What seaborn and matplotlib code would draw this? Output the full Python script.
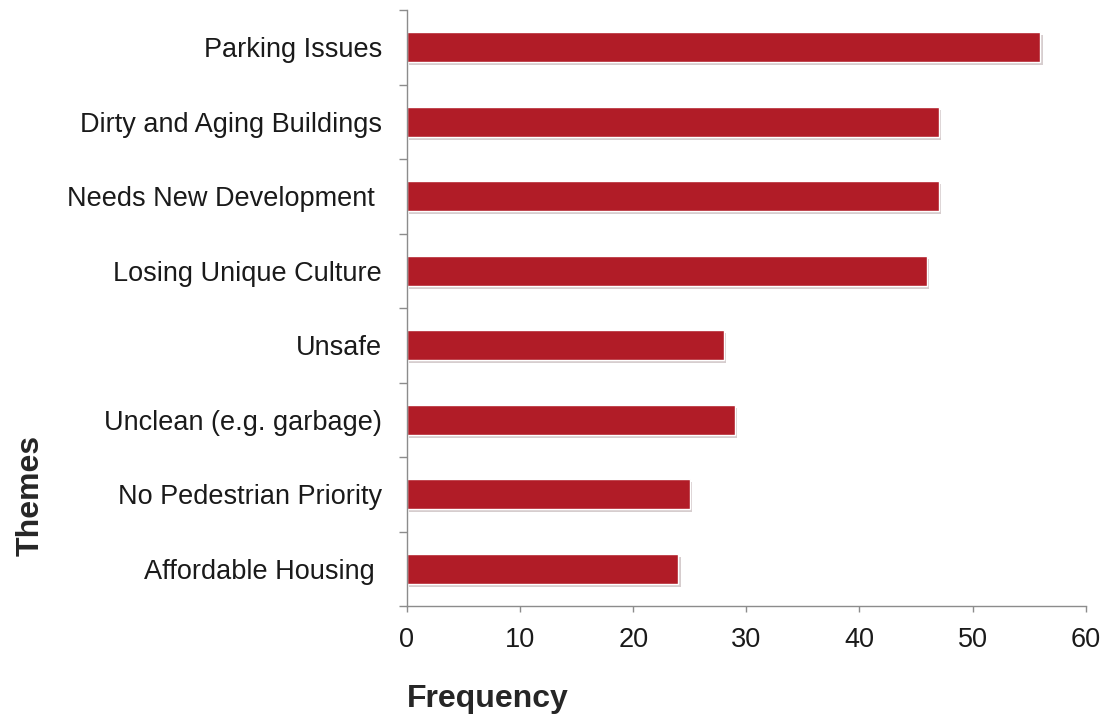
import pandas as pd
import seaborn as sns
import matplotlib.pyplot as plt
import matplotlib.patheffects as pe
import numpy as np

themes = ["Parking Issues", "Dirty and Aging Buildings", "Needs New Development ",
          "Losing Unique Culture", "Unsafe", "Unclean (e.g. garbage)",
          "No Pedestrian Priority", "Affordable Housing "]
frequency = [56, 47, 47, 46, 28, 29, 25, 24]

df = pd.DataFrame({"theme": themes, "frequency": frequency})

sns.set_style("white")
plt.rcParams["font.family"] = ["Liberation Sans", "DejaVu Sans"]

fig = plt.figure(figsize=(11, 7.19), dpi=100)
ax = fig.add_axes([0.37, 0.157, 0.617, 0.829])

sns.barplot(data=df, x="frequency", y="theme", orient="h", color="#B11C27",
            saturation=1, width=0.4, ax=ax)
for p in ax.patches:
    p.set_path_effects([pe.SimplePatchShadow(offset=(1.5, -2), alpha=0.2), pe.Normal()])

ax.set_xlim(0, 60)
ax.set_ylim(7.5, -0.5)
ax.set_xticks(np.arange(0, 61, 10))
ax.set_yticks(np.arange(-0.5, 8, 1), minor=True)

for s in ["top", "right"]:
    ax.spines[s].set_visible(False)
for s in ["left", "bottom"]:
    ax.spines[s].set_color("#8c8c8c")
    ax.spines[s].set_linewidth(1.0)

ax.tick_params(axis="y", which="major", length=0, pad=18, labelsize=19.5, labelcolor="#1a1a1a")
ax.tick_params(axis="y", which="minor", left=True, length=6, width=1, color="#8c8c8c")
ax.tick_params(axis="x", which="major", bottom=True, length=4, width=1, color="#8c8c8c",
               pad=11, labelsize=19.5, labelcolor="#1a1a1a")

ax.set_xlabel("Frequency", fontsize=23, fontweight="bold", loc="left")
ax.xaxis.set_label_coords(0.0, -0.13)
ax.set_ylabel("Themes", fontsize=23, fontweight="bold")
ax.yaxis.set_label_coords(-0.532, 0.186)

fig.savefig("out.png", dpi=100)
